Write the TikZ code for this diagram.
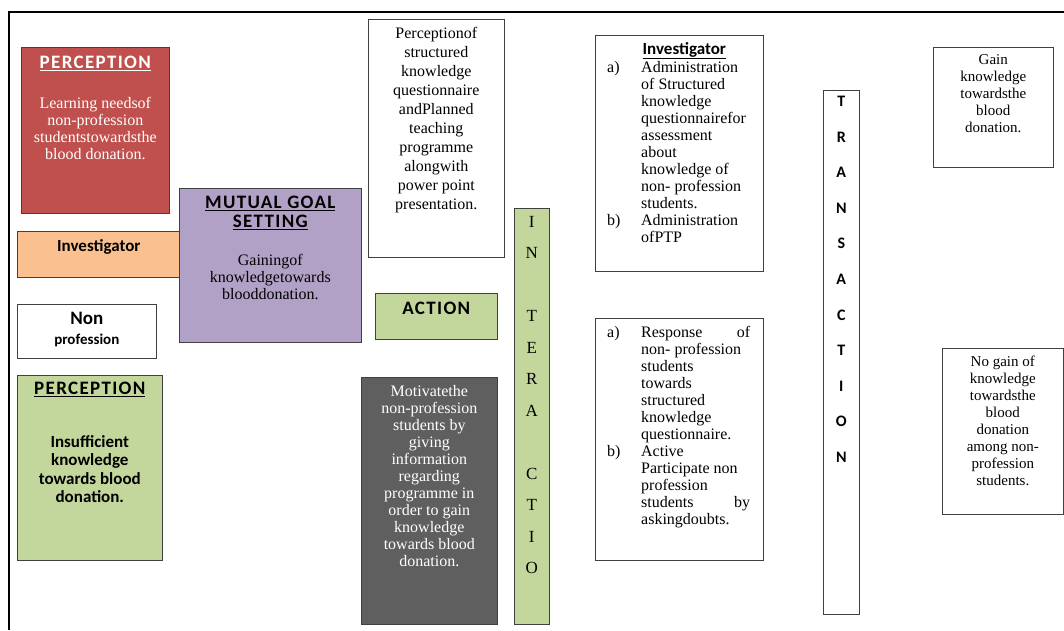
\documentclass[tikz,border=0pt]{standalone}
\usepackage{fontspec}
\setmainfont{Liberation Serif}
\newfontfamily\sansfont{Carlito}
\newfontfamily\capsfont[LetterSpace=7]{Carlito}
\usetikzlibrary{positioning}

\definecolor{redfill}{HTML}{C0504D}
\definecolor{orangefill}{HTML}{FAC090}
\definecolor{lilacfill}{HTML}{B2A1C7}
\definecolor{greenfill}{HTML}{C3D69B}
\definecolor{greyfill}{HTML}{5F5F5F}
\definecolor{edge}{HTML}{404040}

\begin{document}
\begin{tikzpicture}
[x=1pt, y=-1pt,
 box/.style={rectangle, draw=edge, semithick, anchor=north west, inner sep=0pt},
 head/.style={font=\capsfont\bfseries\fontsize{19}{19}\selectfont, inner sep=0pt, align=center},
 sans/.style={font=\sansfont\bfseries\fontsize{17}{18.5}\selectfont, inner sep=0pt, align=center},
 body/.style={font=\fontsize{16}{17}\selectfont, inner sep=0pt, align=center},
 list/.style={font=\fontsize{16}{17}\selectfont, inner sep=0pt, align=left}]
    \useasboundingbox (0,0) rectangle (1064,630);
    \coordinate (framebl) at (9,630);
    \coordinate (frametl) at (9,12);
    \coordinate (frametr) at (1064,12);
    \draw[line width=2.5pt] (framebl) -- (frametl) -- (frametr);
    % left column
    \node[box, fill=redfill, minimum width=148pt, minimum height=166pt](needs) at (21,47) {};
    \node[head, text=white](needshead) [below=9pt of needs.north] {\underline{PERCEPTION}};
    \node[body, text=white](needstext) [below=50pt of needs.north]
        {Learning needsof\\non-profession\\studentstowardsthe\\blood donation.};
    \node[box, fill=orangefill, minimum width=163pt, minimum height=46pt](investigator) at (17,231) {};
    \node[sans](investigatortext) [below=8pt of investigator.north] {Investigator};
    \node[box, fill=lilacfill, minimum width=182pt, minimum height=154pt](goal) at (179,188) {};
    \node[head](goalhead) [below=8pt of goal.north] {\underline{MUTUAL GOAL}\\\underline{SETTING}};
    \node[body](goaltext) [below=66pt of goal.north] {Gainingof\\knowledgetowards\\blooddonation.};
    \node[box, fill=white, minimum width=139pt, minimum height=54pt](nonprof) at (17,304) {};
    \node[sans, font=\sansfont\bfseries\fontsize{19}{20}\selectfont](nonproftext) [below=8pt of nonprof.north]
        {Non\\\fontsize{15}{16}\selectfont profession};
    \node[box, fill=greenfill, minimum width=145pt, minimum height=185pt](insuff) at (17,375) {};
    \node[head](insuffhead) [below=7pt of insuff.north] {\underline{PERCEPTION}};
    \node[sans](insufftext) [below=60pt of insuff.north]
        {Insufficient\\knowledge\\towards blood\\donation.};
    % action column
    \node[box, fill=white, minimum width=136pt, minimum height=238pt](plan) at (368,19) {};
    \node[body, font=\fontsize{16}{19}\selectfont](plantext) [below=8pt of plan.north]
        {Perceptionof\\structured\\knowledge\\questionnaire\\andPlanned\\teaching\\programme\\alongwith\\power point\\presentation.};
    \node[box, fill=greenfill, minimum width=122pt, minimum height=46pt](action) at (375,293) {};
    \node[head](actiontext) [below=9pt of action.north] {ACTION};
    \node[box, fill=greyfill, minimum width=136pt, minimum height=247pt](motivate) at (361,377) {};
    \node[body, text=white](motivatetext) [below=8pt of motivate.north]
        {Motivatethe\\non-profession\\students by\\giving\\information\\regarding\\programme in\\order to gain\\knowledge\\towards blood\\donation.};
    \node[box, fill=greenfill, minimum width=35pt, minimum height=416pt](interaction) at (514,208) {};
    \node[body, font=\fontsize{17}{31.5}\selectfont](interactiontext) [below=8pt of interaction.north]
        {I\\N\\~\\T\\E\\R\\A\\~\\C\\T\\I\\O};
    % interaction column
    \node[box, fill=white, minimum width=168pt, minimum height=236pt](invtasks) at (595,35) {};
    \node[sans, xshift=5pt](invtaskshead) [below=7pt of invtasks.north] {\underline{Investigator}};
    \node[list](invtaskstext) [below right=25pt and 12pt of invtasks.north west]
        {\begin{tabular}{@{}p{34pt}@{}l@{}}
         a) & Administration\\ & of Structured\\ & knowledge\\ & questionnairefor\\ & assessment\\
            & about\\ & knowledge of\\ & non- profession\\ & students.\\
         b) & Administration\\ & ofPTP
         \end{tabular}};
    \node[box, fill=white, minimum width=168pt, minimum height=242pt](response) at (595,318) {};
    \node[list](responsetext) [below right=7pt and 12pt of response.north west]
        {\begin{tabular}{@{}p{34pt}@{}l@{}}
         a) & \makebox[109pt][s]{Response of}\\ & non- profession\\ & students\\ & towards\\
            & structured\\ & knowledge\\ & questionnaire.\\
         b) & Active\\ & Participate non\\ & profession\\ & \makebox[109pt][s]{students by}\\
            & askingdoubts.
         \end{tabular}};
    \node[box, fill=white, minimum width=36pt, minimum height=524pt](transaction) at (823,90) {};
    \node[sans, font=\sansfont\bfseries\fontsize{16}{35.6}\selectfont](transactiontext)
        [below=6pt of transaction.north] {T\\R\\A\\N\\S\\A\\C\\T\\I\\O\\N};
    % outcomes
    \node[box, fill=white, minimum width=120pt, minimum height=120pt](gain) at (933,47) {};
    \node[body, font=\fontsize{15}{17}\selectfont](gaintext) [below=7pt of gain.north]
        {Gain\\knowledge\\towardsthe\\blood\\donation.};
    \node[box, fill=white, minimum width=121pt, minimum height=166pt](nogain) at (942,348) {};
    \node[body, font=\fontsize{15}{17}\selectfont](nogaintext) [below=8pt of nogain.north]
        {No gain of\\knowledge\\towardsthe\\blood\\donation\\among non-\\profession\\students.};
\end{tikzpicture}
\end{document}
